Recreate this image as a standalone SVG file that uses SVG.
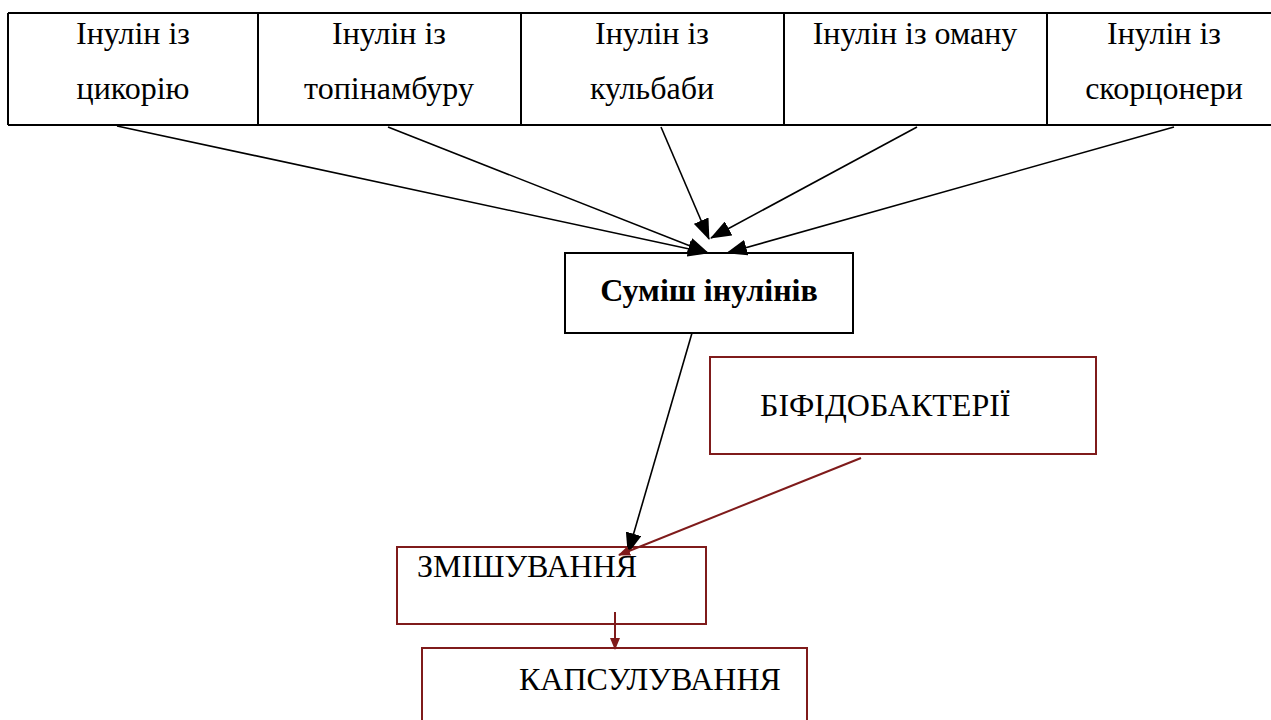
<svg xmlns="http://www.w3.org/2000/svg" width="1271" height="720" viewBox="0 0 1271 720">
<style>
.t{font-family:"Liberation Serif","Times New Roman",serif;font-size:32px;fill:#000}
.b{font-weight:bold}
.cell{fill:none;stroke:#000;stroke-width:2}
.red{fill:#fff;stroke:#7f1b1b;stroke-width:2}
.blk{fill:#fff;stroke:#000;stroke-width:2}
.a{stroke:#000;stroke-width:1.6;fill:none;marker-end:url(#ab)}
.ar{stroke:#7f1b1b;stroke-width:2;fill:none;marker-end:url(#ar)}
</style>
<defs>
<marker id="ab" viewBox="0 0 21 16" refX="20" refY="8" markerWidth="21" markerHeight="16" markerUnits="userSpaceOnUse" orient="auto"><path d="M0,0 L21,8 L0,16 z" fill="#000"/></marker>
<marker id="ar" viewBox="0 0 12 10" refX="11" refY="5" markerWidth="12" markerHeight="10" markerUnits="userSpaceOnUse" orient="auto"><path d="M0,0 L12,5 L0,10 z" fill="#7f1b1b"/></marker>
</defs>
<rect width="1271" height="720" fill="#fff"/>
<g id="table">
<path class="cell" d="M8,13 H1271 M8,125 H1271 M8,13 V125 M258,13 V125 M521,13 V125 M784,13 V125 M1047,13 V125"/>
</g>
<g id="n1"><text class="t" x="133" y="44" text-anchor="middle">Інулін із</text><text class="t" x="133" y="99" text-anchor="middle">цикорію</text></g>
<g id="n2"><text class="t" x="389" y="44" text-anchor="middle">Інулін із</text><text class="t" x="389" y="99" text-anchor="middle">топінамбуру</text></g>
<g id="n3"><text class="t" x="652" y="44" text-anchor="middle">Інулін із</text><text class="t" x="652" y="99" text-anchor="middle">кульбаби</text></g>
<g id="n4"><text class="t" x="915" y="44" text-anchor="middle">Інулін із оману</text></g>
<g id="n5"><text class="t" x="1164" y="44" text-anchor="middle">Інулін із</text><text class="t" x="1164" y="99" text-anchor="middle">скорцонери</text></g>
<g id="mix"><rect class="blk" x="565" y="253" width="288" height="80"/><text class="t b" x="709" y="301" text-anchor="middle">Суміш інулінів</text></g>
<g id="bifido"><rect class="red" x="710" y="357" width="386" height="97"/><text class="t" x="760" y="416">БІФІДОБАКТЕРІЇ</text></g>
<g id="zm"><rect class="red" x="397" y="547" width="309" height="77"/><text class="t" x="417" y="577">ЗМІШУВАННЯ</text></g>
<g id="kaps"><rect class="red" x="422" y="648" width="385" height="80"/><text class="t" x="519" y="690">КАПСУЛУВАННЯ</text></g>
<g id="connectors">
<line class="a" x1="117" y1="126" x2="708" y2="253"/>
<line class="a" x1="388" y1="127" x2="708" y2="253"/>
<line class="a" x1="661" y1="127" x2="709" y2="239"/>
<line class="a" x1="917" y1="127" x2="711" y2="238"/>
<line class="a" x1="1174" y1="127" x2="727" y2="253"/>
<line class="a" x1="692" y1="333" x2="628" y2="553"/>
<line class="ar" x1="861" y1="458" x2="619" y2="555"/>
<line class="ar" x1="615" y1="612" x2="615" y2="649"/>
</g>
</svg>
